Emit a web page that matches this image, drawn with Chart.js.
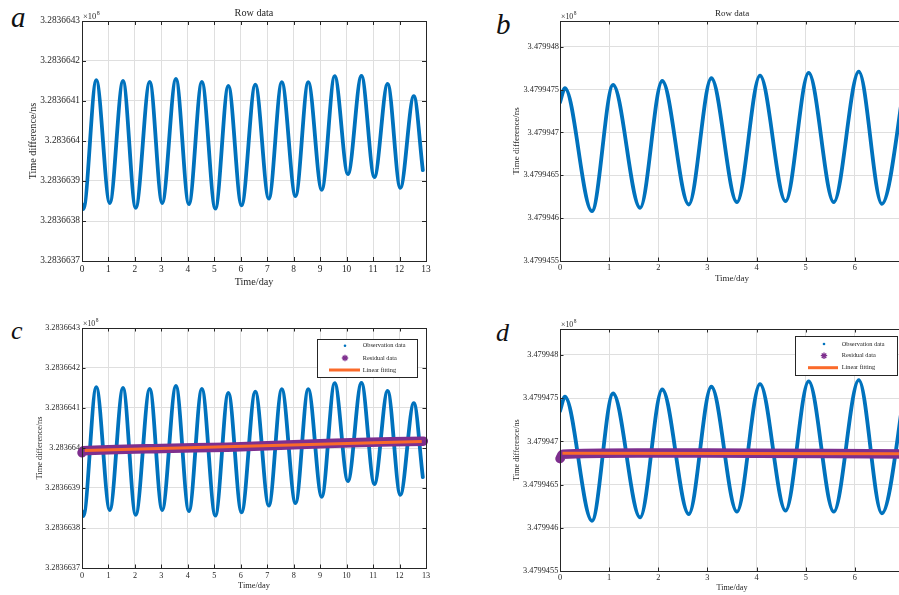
<!DOCTYPE html>
<html>
<head>
<meta charset="utf-8">
<script src="https://cdn.jsdelivr.net/npm/chart.js@4.4.1/dist/chart.umd.min.js"></script>
<style>
  html, body { margin: 0; padding: 0; background: #fff; width: 899px; height: 595px; overflow: hidden; position: relative; }
  canvas { position: absolute; }
  .letter { position: absolute; font-family: "Liberation Serif", serif; font-style: italic; line-height: 1; color: #111; }
</style>
</head>
<body>
<div class="letter" style="left:11px;top:3px;font-size:29px">a</div>
<div class="letter" style="left:496px;top:10px;font-size:29px">b</div>
<div class="letter" style="left:11px;top:318px;font-size:26px">c</div>
<div class="letter" style="left:496px;top:320px;font-size:26px">d</div>

<canvas id="chartA" width="440" height="295" style="left:0;top:0"></canvas>
<canvas id="chartB" width="470" height="295" style="left:450px;top:0"></canvas>
<canvas id="chartC" width="440" height="295" style="left:0;top:300px"></canvas>
<canvas id="chartD" width="470" height="295" style="left:450px;top:300px"></canvas>

<script>
// ===== DATA (time in days, time difference in units of 1e8 ns) =====
const daysA = [0, 0.05, 0.54, 1.05, 1.55, 2.03, 2.56, 3.03, 3.55, 4.04, 4.53, 5.04, 5.53, 6.03,
  6.55, 7.06, 7.55, 8.07, 8.55, 9.06, 9.55, 10.05, 10.56, 11.05, 11.55, 12.03, 12.54, 12.88];
const valuesA = [3.283663842, 3.28366383, 3.283664152, 3.283663845, 3.28366415, 3.283663833,
  3.283664148, 3.283663845, 3.283664155, 3.283663842, 3.283664148, 3.283663831, 3.283664138,
  3.283663839, 3.283664141, 3.283663856, 3.283664147, 3.283663862, 3.283664147, 3.283663878,
  3.283664162, 3.283663917, 3.283664163, 3.28366391, 3.283664143, 3.283663883, 3.283664112,
  3.283663927];
const residualDaysA = [0, 0.06, 3, 5.5, 8, 10.5, 12.9];
const residualValuesA = [3.283663988, 3.283663993, 3.283663999, 3.283664002, 3.283664008, 3.283664014, 3.283664017];
const fitDaysA = [0.1, 12.84];
const fitValuesA = [3.283663994, 3.283664016];

const daysB = [0, 0.1, 0.65, 1.08, 1.63, 2.08, 2.62, 3.08, 3.6, 4.07, 4.59, 5.06, 5.57, 6.08, 6.55, 7.05];
const valuesB = [3.47994735, 3.479947516, 3.479946081, 3.479947554, 3.47994612, 3.4799476,
  3.479946159, 3.479947632, 3.479946186, 3.479947663, 3.479946198, 3.479947694, 3.479946186,
  3.479947709, 3.479946167, 3.47994772];
const residualDaysB = [0, 0.06, 2, 4, 7.05];
const residualValuesB = [3.4799468, 3.47994685, 3.479946865, 3.479946862, 3.479946855];
const fitDaysB = [0.05, 7.05];
const fitValuesB = [3.479946862, 3.479946858];

const xTicksA = [0, 1, 2, 3, 4, 5, 6, 7, 8, 9, 10, 11, 12, 13];
const xTicksB = [0, 1, 2, 3, 4, 5, 6, 7];
const yTicksA = [3.2836637, 3.2836638, 3.2836639, 3.283664, 3.2836641, 3.2836642, 3.2836643];
const yLabelsA = ['3.2836637', '3.2836638', '3.2836639', '3.283664', '3.2836641', '3.2836642', '3.2836643'];
const yTicksB = [3.4799455, 3.479946, 3.4799465, 3.479947, 3.4799475, 3.479948];
const yLabelsB = ['3.4799455', '3.479946', '3.4799465', '3.479947', '3.4799475', '3.479948'];

// ===== HELPERS =====
const BLUE = '#0072BD', PURPLE = '#7E2F8E', ORANGE = '#FA6A2A', INK = '#262626', FONT = 'Liberation Serif';
const pts = (xs, ys) => xs.map((x, i) => ({ x: x, y: ys[i] }));

function obsSet(xs, ys) {
  return { label: 'Observation data', data: pts(xs, ys), borderColor: BLUE, backgroundColor: BLUE,
    borderWidth: 3.8, pointRadius: 0, cubicInterpolationMode: 'monotone', order: 3,
    borderCapStyle: 'round', borderJoinStyle: 'round' };
}
function resSet(xs, ys, w) {
  return { label: 'Residual data', data: pts(xs, ys), borderColor: PURPLE, backgroundColor: PURPLE,
    borderWidth: w, pointRadius: 0, tension: 0.3, order: 2, clip: false, borderCapStyle: 'round' };
}
function fitSet(xs, ys) {
  return { label: 'Linear fitting', data: pts(xs, ys), borderColor: ORANGE, backgroundColor: ORANGE,
    borderWidth: 3, pointRadius: 0, order: 1 };
}

// box, inward ticks, title, exponent and legend (MATLAB look)
const frame = {
  id: 'frame',
  afterDraw(chart, args, o) {
    const { ctx, chartArea: a, scales: { x, y } } = chart;
    ctx.save();
    ctx.strokeStyle = INK;
    ctx.lineWidth = 1;
    ctx.beginPath();
    x.ticks.forEach(t => {
      const px = Math.round(x.getPixelForValue(t.value)) + 0.5;
      ctx.moveTo(px, a.bottom); ctx.lineTo(px, a.bottom - o.tick);
      ctx.moveTo(px, a.top); ctx.lineTo(px, a.top + o.tick);
    });
    y.ticks.forEach(t => {
      const py = Math.round(y.getPixelForValue(t.value)) + 0.5;
      ctx.moveTo(a.left, py); ctx.lineTo(a.left + o.tick, py);
      ctx.moveTo(a.right, py); ctx.lineTo(a.right - o.tick, py);
    });
    ctx.stroke();
    ctx.strokeRect(Math.round(a.left) + 0.5, Math.round(a.top) + 0.5,
      Math.round(a.right - a.left), Math.round(a.bottom - a.top));

    ctx.fillStyle = INK;
    if (o.title) {
      ctx.font = o.titleSize + 'px "' + FONT + '"';
      ctx.textAlign = 'center';
      ctx.textBaseline = 'middle';
      ctx.fillText(o.title, (a.left + a.right) / 2, a.top - o.titleGap);
    }
    // x10^8
    ctx.textAlign = 'left';
    ctx.textBaseline = 'alphabetic';
    ctx.font = o.expSize + 'px "' + FONT + '"';
    const bx = a.left + 1, by = a.top - 2.5;
    ctx.fillText('\u00d710', bx, by);
    const w = ctx.measureText('\u00d710').width;
    ctx.font = (o.expSize * 0.7) + 'px "' + FONT + '"';
    ctx.fillText('8', bx + w + 0.5, by - o.expSize * 0.42);

    if (o.legend) {
      const L = o.legend;
      ctx.fillStyle = '#fff';
      ctx.fillRect(L.x, L.y, L.w, L.h);
      ctx.strokeStyle = INK;
      ctx.strokeRect(L.x + 0.5, L.y + 0.5, L.w, L.h);
      const sets = chart.data.datasets;
      sets.forEach((ds, i) => {
        const ry = L.rows[i];
        if (i === 0) {
          ctx.fillStyle = ds.borderColor;
          ctx.beginPath(); ctx.arc(L.sym, ry, 1.3, 0, Math.PI * 2); ctx.fill();
        } else if (i === 1) {
          ctx.strokeStyle = ds.borderColor; ctx.lineWidth = 1.3;
          ctx.beginPath();
          for (let k = 0; k < 4; k++) {
            const ang = k * Math.PI / 4;
            ctx.moveTo(L.sym - 3.2 * Math.cos(ang), ry - 3.2 * Math.sin(ang));
            ctx.lineTo(L.sym + 3.2 * Math.cos(ang), ry + 3.2 * Math.sin(ang));
          }
          ctx.stroke();
        } else {
          ctx.strokeStyle = ds.borderColor; ctx.lineWidth = 3;
          ctx.beginPath(); ctx.moveTo(L.line[0], ry); ctx.lineTo(L.line[1], ry); ctx.stroke();
        }
        ctx.fillStyle = INK;
        ctx.font = L.size + 'px "' + FONT + '"';
        ctx.textBaseline = 'middle';
        ctx.fillText(ds.label, L.text, ry);
      });
    }
    ctx.restore();
  }
};

function panel(id, p) {
  return new Chart(document.getElementById(id), {
    type: 'line',
    data: { datasets: p.datasets },
    options: {
      responsive: false,
      animation: false,
      events: [],
      layout: { padding: p.pad },
      plugins: { legend: { display: false }, tooltip: { enabled: false }, frame: p.frame },
      scales: {
        x: {
          type: 'linear', min: p.xTicks[0], max: p.xTicks[p.xTicks.length - 1],
          afterFit: s => { s.height = p.xH; },
          afterBuildTicks: s => { s.ticks = p.xTicks.map(v => ({ value: v })); },
          grid: { color: '#dfdfdf', drawTicks: false },
          border: { display: false },
          ticks: { autoSkip: false, maxRotation: 0, color: INK, padding: p.xPad,
            font: { family: FONT, size: p.tickSize }, callback: v => String(v) },
          title: { display: true, text: 'Time/day', color: INK,
            font: { family: FONT, size: p.titleSize }, padding: { top: 0, bottom: p.xTitlePad } }
        },
        y: {
          type: 'linear', min: p.yMin, max: p.yMax,
          afterFit: s => { s.width = p.yW; },
          afterBuildTicks: s => { s.ticks = p.yTicks.map(v => ({ value: v })); },
          grid: { color: '#dfdfdf', drawTicks: false },
          border: { display: false },
          ticks: { autoSkip: false, color: INK, padding: p.yPad,
            font: { family: FONT, size: p.tickSize }, callback: (v, i) => p.yLabels[i] },
          title: { display: true, text: 'Time difference/ns', color: INK,
            font: { family: FONT, size: p.titleSize }, padding: { top: p.yTitlePad, bottom: 0 } }
        }
      }
    },
    plugins: [frame]
  });
}

// ===== CHARTS =====
panel('chartA', {
  datasets: [obsSet(daysA, valuesA)],
  xTicks: xTicksA, yTicks: yTicksA, yLabels: yLabelsA, yMin: 3.2836637, yMax: 3.2836643,
  pad: { left: 0, top: 21, right: 14, bottom: 0 }, yW: 82, xH: 34,
  tickSize: 9.4, titleSize: 10.2, xPad: 2.7, xTitlePad: 6.2, yPad: 2, yTitlePad: 27,
  frame: { tick: 4, title: 'Row data', titleSize: 10.2, titleGap: 8, expSize: 8.5 }
});

panel('chartB', {
  datasets: [obsSet(daysB, valuesB)],
  xTicks: xTicksB, yTicks: yTicksB, yLabels: yLabelsB, yMin: 3.4799455, yMax: 3.4799483,
  pad: { left: 0, top: 21, right: 16, bottom: 0 }, yW: 110, xH: 34,
  tickSize: 8.4, titleSize: 9, xPad: 1.7, xTitlePad: 11.3, yPad: 1, yTitlePad: 61.6,
  frame: { tick: 3.5, title: 'Row data', titleSize: 9, titleGap: 7.5, expSize: 7.8 }
});

panel('chartC', {
  datasets: [obsSet(daysA, valuesA), resSet(residualDaysA, residualValuesA, 9.5), fitSet(fitDaysA, fitValuesA)],
  xTicks: xTicksA, yTicks: yTicksA, yLabels: yLabelsA, yMin: 3.2836637, yMax: 3.2836643,
  pad: { left: 0, top: 28, right: 14, bottom: 0 }, yW: 82, xH: 27,
  tickSize: 8.2, titleSize: 8.4, xPad: 2.5, xTitlePad: 4, yPad: 2, yTitlePad: 34.5,
  frame: { tick: 3.5, expSize: 7.8,
    legend: { x: 317, y: 39, w: 100, h: 38, rows: [45.7, 58, 70], sym: 345, line: [329, 360], text: 362.7, size: 6.3 } }
});

panel('chartD', {
  datasets: [obsSet(daysB, valuesB), resSet(residualDaysB, residualValuesB, 9.5), fitSet(fitDaysB, fitValuesB)],
  xTicks: xTicksB, yTicks: yTicksB, yLabels: yLabelsB, yMin: 3.4799455, yMax: 3.4799483,
  pad: { left: 0, top: 29, right: 16, bottom: 0 }, yW: 110, xH: 24,
  tickSize: 8.3, titleSize: 8.2, xPad: 2, xTitlePad: 2.4, yPad: 1.7, yTitlePad: 62.4,
  frame: { tick: 3.5, expSize: 7.8,
    legend: { x: 345, y: 36, w: 102, h: 39, rows: [44, 55.7, 67.7], sym: 374, line: [358, 388], text: 391.7, size: 6.3 } }
});
</script>
</body>
</html>
